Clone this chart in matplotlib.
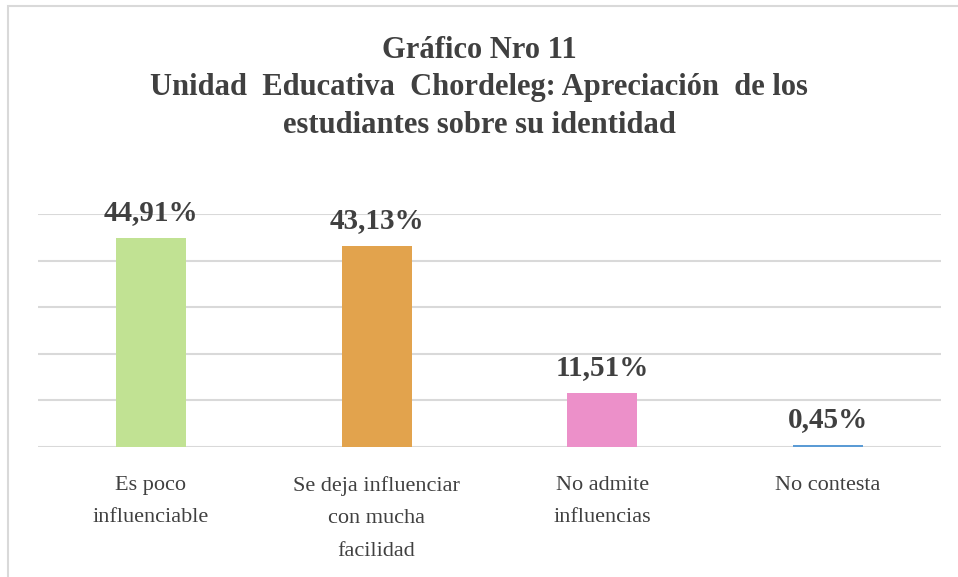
import matplotlib
matplotlib.use("Agg")
import matplotlib.pyplot as plt
from matplotlib.patches import Rectangle

categories = ["Es poco\ninfluenciable", "Se deja influenciar\ncon mucha\nfacilidad",
              "No admite\ninfluencias", "No contesta"]
values = [44.91, 43.13, 11.51, 0.45]
labels = ["44,91%", "43,13%", "11,51%", "0,45%"]
colors = ["#C1E293", "#E2A34D", "#EC90C9", "#5B9BD5"]
title = "Gráfico Nro 11\nUnidad  Educativa  Chordeleg: Apreciación  de los\nestudiantes sobre su identidad"

plt.rcParams['font.family'] = ['Liberation Serif', 'DejaVu Serif']

fig = plt.figure(figsize=(9.58, 5.77), dpi=100)
fig.patches.append(Rectangle((8/958, -0.01), 1.0, 1 - 6/577 + 0.01, transform=fig.transFigure,
                             fill=False, edgecolor="#d9d9d9", linewidth=1.5))
ax = fig.add_axes([38/958, 1 - 447/577, (941 - 38)/958, (447 - 214)/577])

x = range(len(categories))
ax.bar(x, values, width=0.31, color=colors, zorder=3)
ax.set_xlim(-0.5, 3.5)
ax.set_ylim(0, 50)
ax.set_yticks([0, 10, 20, 30, 40, 50])
ax.yaxis.grid(True, color="#d9d9d9", linewidth=1.5, zorder=0)
ax.tick_params(axis='y', left=False, labelleft=False)
ax.tick_params(axis='x', length=0, pad=21, labelsize=16, labelcolor="#404040")
ax.set_xticks(list(x))
ax.set_xticklabels(categories, linespacing=1.95)
for s in ax.spines.values():
    s.set_visible(False)

for xi, v, lab in zip(x, values, labels):
    ax.annotate(lab, (xi, v), xytext=(0, 13), textcoords="offset points", ha="center",
                va="baseline", fontsize=21, fontweight="bold", color="#404040", zorder=4)

fig.text(0.5, 1 - 36/577, title, ha="center", va="top", fontsize=22, fontweight="bold",
         color="#404040", linespacing=1.38)

fig.savefig("out.png", dpi=100, facecolor="white")
